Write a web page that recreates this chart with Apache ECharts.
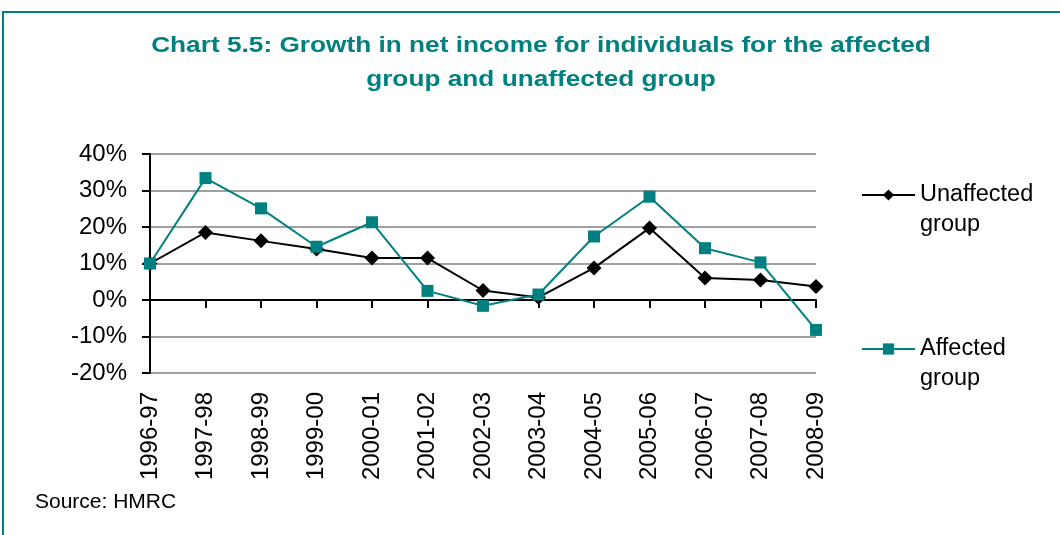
<!DOCTYPE html>
<html>
<head>
<meta charset="utf-8">
<script src="https://cdn.jsdelivr.net/npm/echarts@6/dist/echarts.min.js"></script>
<style>
html,body{margin:0;padding:0;background:#fff;}
#chart{width:1060px;height:535px;}
</style>
</head>
<body>
<div id="chart"></div>
<script>
const categories = ['1996-97','1997-98','1998-99','1999-00','2000-01','2001-02','2002-03','2003-04','2004-05','2005-06','2006-07','2007-08','2008-09'];
const unaffected = [10.0, 18.5, 16.2, 14.0, 11.5, 11.5, 2.6, 0.7, 8.8, 19.7, 6.0, 5.5, 3.7];
const affected = [10.0, 33.4, 25.1, 14.6, 21.3, 2.5, -1.6, 1.5, 17.4, 28.3, 14.2, 10.3, -8.2];
const yTicks = [-20, -10, 0, 10, 20, 30, 40];
const titleText = 'Chart 5.5: Growth in net income for individuals for the affected\ngroup and unaffected group';
const sourceText = 'Source: HMRC';
const teal = '#008080';
const FONT = 'Liberation Sans, Arial, sans-serif';

const chart = echarts.init(document.getElementById('chart'));
chart.setOption({
  backgroundColor: '#fff',
  animation: false,
  graphic: [
    {type: 'rect', shape: {x: 3, y: 12, width: 1200, height: 700}, style: {fill: 'none', stroke: teal, lineWidth: 2}, silent: true},
    {type: 'text', x: 541, y: 63, scaleX: 1.22, scaleY: 1,
      style: {text: titleText, x: 0, y: 0, align: 'center', verticalAlign: 'middle', lineHeight: 34,
        fontFamily: FONT, fontWeight: 'bold', fontSize: 21.5, fill: teal}},
    {type: 'text', x: 35, y: 492, style: {text: sourceText, fontFamily: FONT, fontSize: 21, fill: '#000', verticalAlign: 'top'}}
  ],
  legend: {
    orient: 'vertical',
    left: 856,
    top: 145,
    itemGap: 64,
    itemWidth: 53,
    itemHeight: 14,
    data: ['Unaffected\ngroup', 'Affected\ngroup'],
    formatter: name => ' \n' + name,
    textStyle: {fontFamily: FONT, fontSize: 23.5, color: '#000', lineHeight: 30}
  },
  grid: {left: 150, right: 244, top: 154, bottom: 162, containLabel: false},
  xAxis: [
    {
      type: 'category', data: categories, boundaryGap: false,
      axisLine: {onZero: true, lineStyle: {color: '#000', width: 2}},
      axisTick: {show: true, interval: 0, length: 8, inside: false, lineStyle: {color: '#000', width: 2}},
      axisLabel: {show: false},
      splitLine: {show: false}
    },
    {
      type: 'category', data: categories, boundaryGap: false, position: 'bottom',
      axisLine: {show: false, onZero: false},
      axisTick: {show: false},
      axisLabel: {show: true, rotate: 90, margin: 19, fontFamily: FONT, fontSize: 24, color: '#000', interval: 0},
      splitLine: {show: false}
    }
  ],
  yAxis: {
    type: 'value', min: yTicks[0], max: yTicks[yTicks.length - 1], interval: 10,
    axisLine: {show: true, lineStyle: {color: '#000', width: 2}},
    axisTick: {show: true, length: 8, lineStyle: {color: '#000', width: 2}},
    axisLabel: {formatter: v => v + '%', margin: 23, fontFamily: FONT, fontSize: 24, color: '#000'},
    splitLine: {show: true, lineStyle: {color: '#a0a0a0', width: 2}}
  },
  series: [
    {
      name: 'Unaffected\ngroup', type: 'line', data: unaffected, xAxisIndex: 0,
      symbol: 'diamond', symbolSize: 15, showAllSymbol: true,
      lineStyle: {color: '#000', width: 2}, itemStyle: {color: '#000'}, z: 3
    },
    {
      name: 'Affected\ngroup', type: 'line', data: affected, xAxisIndex: 0,
      symbol: 'rect', symbolSize: 12, showAllSymbol: true,
      lineStyle: {color: teal, width: 2}, itemStyle: {color: teal}, z: 4
    }
  ]
});
</script>
</body>
</html>
